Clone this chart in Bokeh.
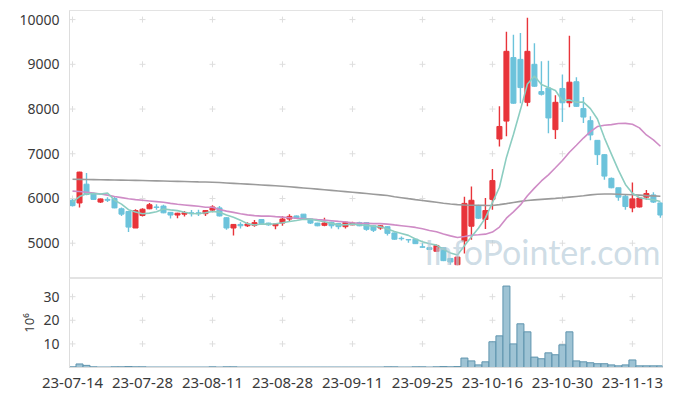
from bokeh.plotting import figure
from bokeh.layouts import column
from bokeh.models import FixedTicker, Range1d, Label
from bokeh.embed import file_html
from bokeh.resources import INLINE

tick_labels = ["23-07-14", "23-07-28", "23-08-11", "23-08-28", "23-09-11",
               "23-09-25", "23-10-16", "23-10-30", "23-11-13"]

opens = [5960, 5900, 6320, 6110, 5920, 5980, 6000, 5770, 5710, 5340,
         5620, 5770, 5810, 5830, 5690, 5630, 5650, 5680, 5680, 5660,
         5740, 5790, 5570, 5340, 5420, 5390, 5400, 5530, 5450, 5390,
         5450, 5540, 5610, 5650, 5540, 5450, 5400, 5470, 5440, 5370,
         5410, 5460, 5460, 5390, 5340, 5370, 5230, 5110, 5080, 5090,
         4920, 4900, 4820, 4900, 4660, 4520, 5050, 5380, 5840, 5530,
         5980, 7330, 7730, 9150, 9110, 8150, 9000, 8390, 8470, 7540,
         8460, 8140, 8610, 8010, 7740, 7300, 6980, 6450, 6240, 6050,
         5790, 5810, 6030, 6080, 5900]
highs = [5990, 6600, 6570, 6130, 6000, 6030, 6040, 5800, 5720, 5760,
         5780, 5900, 5870, 5860, 5700, 5680, 5720, 5740, 5750, 5740,
         5850, 5830, 5580, 5430, 5470, 5470, 5520, 5530, 5460, 5440,
         5610, 5650, 5620, 5650, 5550, 5460, 5570, 5480, 5450, 5480,
         5480, 5480, 5470, 5400, 5400, 5380, 5240, 5150, 5085, 5100,
         5000, 4910, 4970, 4910, 4670, 4700, 6040, 6270, 5860, 6010,
         6660, 8060, 9730, 9660, 9700, 10040, 9470, 9070, 9080, 8310,
         8770, 9640, 8710, 8270, 7840, 7300, 6990, 6470, 6240, 6080,
         6360, 6020, 6190, 6140, 5910]
lows = [5820, 5800, 6070, 5970, 5900, 5920, 5780, 5610, 5250, 5340,
        5600, 5760, 5750, 5670, 5550, 5560, 5600, 5600, 5610, 5610,
        5690, 5600, 5300, 5170, 5330, 5360, 5370, 5430, 5390, 5310,
        5390, 5480, 5550, 5540, 5430, 5380, 5380, 5330, 5310, 5330,
        5400, 5380, 5280, 5250, 5300, 5170, 5080, 5060, 5010, 4980,
        4900, 4850, 4810, 4600, 4520, 4510, 4770, 5080, 5540, 5320,
        5750, 7160, 7390, 8120, 8130, 8060, 8500, 8300, 7460, 7330,
        7710, 8040, 8050, 7690, 7300, 6750, 6420, 6230, 5950, 5750,
        5690, 5800, 5970, 5900, 5570]
closes = [5840, 6590, 6090, 5980, 5990, 5960, 5790, 5650, 5360, 5730,
          5760, 5860, 5800, 5680, 5630, 5670, 5680, 5660, 5660, 5730,
          5810, 5610, 5340, 5420, 5390, 5430, 5460, 5440, 5410, 5430,
          5540, 5600, 5560, 5540, 5450, 5390, 5450, 5390, 5370, 5470,
          5450, 5390, 5310, 5290, 5390, 5220, 5090, 5100, 5075, 4990,
          4910, 4860, 4950, 4610, 4580, 4690, 5890, 5960, 5560, 5730,
          6400, 7610, 9290, 8130, 8480, 9290, 8510, 8330, 7800, 8150,
          8140, 8600, 8060, 7820, 7420, 6980, 6500, 6240, 6030, 5820,
          5990, 6010, 6110, 5920, 5630]
# volume in millions of shares
volume_m = [0.3, 1.5, 0.9, 0.3, 0.2, 0.2, 0.3, 0.3, 0.4, 0.3,
            0.3, 0.2, 0.2, 0.2, 0.2, 0.2, 0.2, 0.2, 0.2, 0.2,
            0.3, 0.2, 0.3, 0.3, 0.2, 0.2, 0.2, 0.2, 0.2, 0.2,
            0.2, 0.2, 0.2, 0.2, 0.2, 0.2, 0.2, 0.2, 0.2, 0.2,
            0.2, 0.2, 0.2, 0.2, 0.2, 0.3, 0.3, 0.2, 0.2, 0.3,
            0.3, 0.2, 0.3, 0.4, 0.3, 0.4, 4.0, 2.8, 1.1, 2.4,
            10.9, 13.4, 34.5, 10.0, 18.5, 15.1, 4.4, 3.7, 6.2, 5.4,
            9.6, 15.1, 2.8, 2.4, 2.0, 1.6, 1.6, 1.1, 0.7, 1.1,
            3.2, 0.7, 0.7, 0.7, 0.7]
# closes before the visible window (for the 5-day average)
prev_closes = [5955, 5790, 5945, 6055]
# 20-day average for the first 19 visible days
ma20_head = [6165, 6155, 6140, 6120, 6100, 6075, 6045, 6020, 5995, 5975,
             5960, 5945, 5930, 5915, 5890, 5870, 5855, 5840, 5825]
# long moving average
ma_long = [6431, 6428, 6425, 6422, 6419, 6416, 6413, 6410, 6407, 6405,
           6402, 6398, 6394, 6390, 6386, 6383, 6379, 6375, 6371, 6368,
           6364, 6356, 6347, 6338, 6329, 6320, 6311, 6302, 6293, 6284,
           6275, 6262, 6249, 6236, 6223, 6210, 6196, 6182, 6168, 6154,
           6140, 6125, 6110, 6095, 6080, 6065, 6040, 6018, 5996, 5975,
           5955, 5935, 5915, 5895, 5877, 5862, 5855, 5850, 5848, 5845,
           5843, 5862, 5885, 5910, 5935, 5955, 5968, 5980, 5992, 6003,
           6015, 6030, 6045, 6060, 6080, 6095, 6100, 6100, 6095, 6090,
           6085, 6075, 6065, 6058, 6051]

n = len(closes)
idx = list(range(n))
ext = prev_closes + closes
ma5 = [sum(ext[i:i + 5]) / 5 for i in range(n)]
ma20 = ma20_head + [sum(closes[i - 19:i + 1]) / 20 for i in range(19, n)]

RED = "#e8343a"
BLUE = "#6cc3db"
colors = [RED if c >= o else BLUE for o, c in zip(opens, closes)]
tops = [max(o, c) for o, c in zip(opens, closes)]
bots = [min(o, c) for o, c in zip(opens, closes)]

tick_pos = [i * 10 for i in range(len(tick_labels))]
price_ticks = [5000, 6000, 7000, 8000, 9000, 10000]
vol_ticks = [10, 20, 30]
FONT = "Noto Sans"
TXT = "#3a3a3a"
GRIDC = "#dedede"

x_range = Range1d(-0.43, 84.3)

p = figure(width=665, height=278, x_range=x_range, y_range=Range1d(4211, 10203),
           output_backend="svg", toolbar_location=None,
           min_border_left=69, min_border_right=3, min_border_top=10, min_border_bottom=0)
p.xaxis.visible = False
p.xgrid.visible = False
p.ygrid.visible = False
p.outline_line_color = "#e3e3e3"
p.yaxis.ticker = FixedTicker(ticks=price_ticks)
p.yaxis.axis_line_color = "#dddddd"
p.yaxis.major_tick_line_color = None
p.yaxis.minor_tick_line_color = None
p.yaxis.major_label_standoff = 4
p.yaxis.major_label_text_font = FONT
p.yaxis.major_label_text_font_size = "14px"
p.yaxis.major_label_text_color = TXT

gx = [x for x in tick_pos for _ in price_ticks]
gy = [y for _ in tick_pos for y in price_ticks]
p.scatter(gx, gy, marker="cross", size=6, line_color=GRIDC, line_width=1)

p.segment(x0=idx, y0=lows, x1=idx, y1=highs, line_color=colors, line_width=1.4)
p.vbar(x=idx, width=0.72, top=tops, bottom=bots, fill_color=colors, line_color=colors, line_width=1)

p.line(idx, ma_long, line_color="#9b9b9b", line_width=1.6)
p.line(idx, ma20, line_color="#cf8cc6", line_width=1.6)
p.line(idx, ma5, line_color="#8ccdc1", line_width=1.6)

p.add_layout(Label(x=355, y=7, x_units="screen", y_units="screen", text="InfoPointer.com",
                   text_font="Lato", text_font_size="34px",
                   text_color="#b3cad7", text_alpha=0.65))

v = figure(width=665, height=112, x_range=x_range, y_range=Range1d(0, 37.7),
           output_backend="svg", toolbar_location=None,
           min_border_left=69, min_border_right=3, min_border_top=0, min_border_bottom=0)
v.xgrid.visible = False
v.ygrid.visible = False
v.outline_line_color = "#e3e3e3"
vgx = [x for x in tick_pos for _ in vol_ticks]
vgy = [y for _ in tick_pos for y in vol_ticks]
v.scatter(vgx, vgy, marker="cross", size=6, line_color=GRIDC, line_width=1)
v.vbar(x=idx, width=1.0, top=volume_m, bottom=0, fill_color="#94bccf", fill_alpha=0.9,
       line_color="#5f94ae", line_width=1)

v.xaxis.ticker = FixedTicker(ticks=tick_pos)
v.xaxis.major_label_overrides = {pos: lab for pos, lab in zip(tick_pos, tick_labels)}
v.xaxis.axis_line_color = "#dddddd"
v.xaxis.major_tick_line_color = None
v.xaxis.minor_tick_line_color = None
v.xaxis.major_label_standoff = 4
v.xaxis.major_label_text_font = FONT
v.xaxis.major_label_text_font_size = "15px"
v.xaxis.major_label_text_color = TXT

v.yaxis.ticker = FixedTicker(ticks=vol_ticks)
v.yaxis.axis_line_color = "#dddddd"
v.yaxis.major_tick_line_color = None
v.yaxis.minor_tick_line_color = None
v.yaxis.major_label_standoff = 4
v.yaxis.major_label_text_font = FONT
v.yaxis.major_label_text_font_size = "14px"
v.yaxis.major_label_text_color = TXT
v.yaxis.axis_label = "10\u2076"
v.yaxis.axis_label_text_font = FONT
v.yaxis.axis_label_text_font_size = "13px"
v.yaxis.axis_label_text_font_style = "normal"
v.yaxis.axis_label_text_color = TXT
v.yaxis.axis_label_standoff = 2

layout = column(p, v, spacing=0)
open("out.html", "w").write(file_html(layout, INLINE))
